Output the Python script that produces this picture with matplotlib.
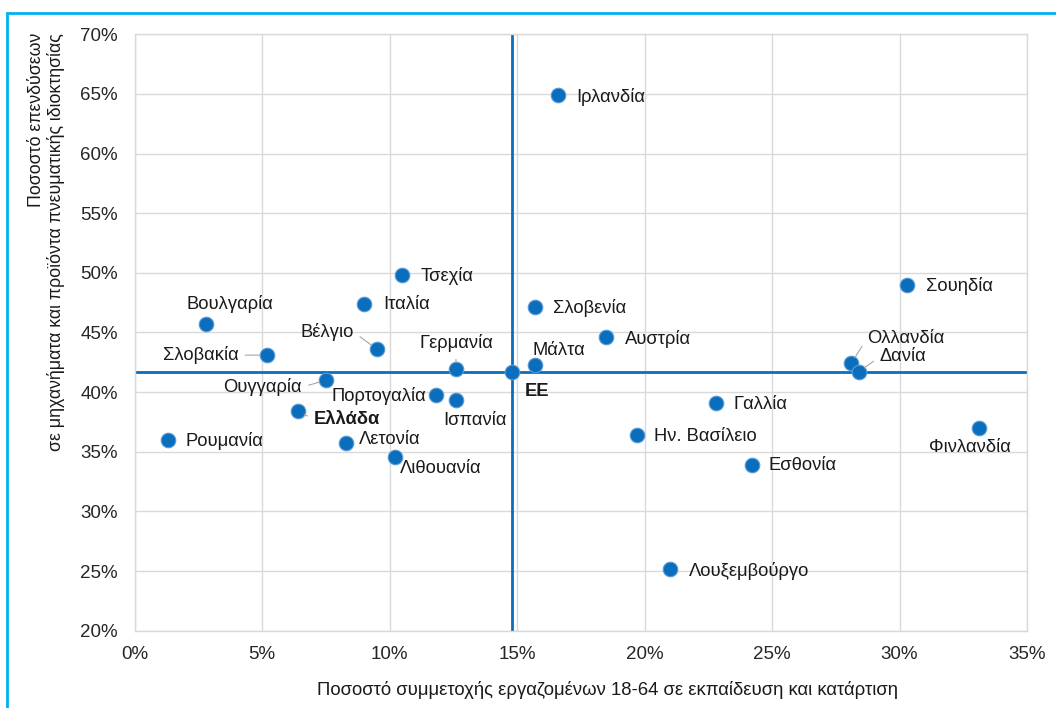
import matplotlib
matplotlib.use("Agg")
import matplotlib.pyplot as plt
import matplotlib.patches as patches
from matplotlib.ticker import FuncFormatter

plt.rcParams['font.family'] = ['Liberation Sans', 'DejaVu Sans']

# ---- data ----
countries = ["Ιρλανδία", "Τσεχία", "Ιταλία", "Βουλγαρία", "Σλοβακία", "Βέλγιο",
             "Γερμανία", "ΕΕ", "Μάλτα", "Σλοβενία", "Αυστρία", "Ουγγαρία",
             "Πορτογαλία", "Ισπανία", "Ελλάδα", "Ρουμανία", "Λετονία", "Λιθουανία",
             "Σουηδία", "Ολλανδία", "Δανία", "Γαλλία", "Ην. Βασίλειο", "Εσθονία",
             "Φινλανδία", "Λουξεμβούργο"]
training = [16.6, 10.5, 9.0, 2.8, 5.2, 9.5,
            12.6, 14.8, 15.7, 15.7, 18.5, 7.5,
            11.8, 12.6, 6.4, 1.3, 8.3, 10.2,
            30.3, 28.1, 28.4, 22.8, 19.7, 24.2,
            33.1, 21.0]
investment = [64.9, 49.8, 47.4, 45.7, 43.1, 43.6,
              41.9, 41.7, 42.3, 47.1, 44.6, 41.0,
              39.8, 39.3, 38.4, 36.0, 35.7, 34.6,
              49.0, 42.4, 41.7, 39.1, 36.4, 33.9,
              37.0, 25.2]
eu_x = 14.8
eu_y = 41.7

# label placement: (dx px, dy px, ha, leader line)
label_pos = {
    "Ιρλανδία": (18, -2, 'left', False),
    "Τσεχία": (18, -1, 'left', False),
    "Ιταλία": (19, -1, 'left', False),
    "Βουλγαρία": (24, 20, 'center', False),
    "Σλοβακία": (-29, 0, 'right', True),
    "Βέλγιο": (-23, 17, 'right', True),
    "Γερμανία": (0, 26, 'center', True),
    "ΕΕ": (13, -20, 'left', False),
    "Μάλτα": (-2, 14, 'left', False),
    "Σλοβενία": (18, -1, 'left', False),
    "Αυστρία": (19, -2, 'left', False),
    "Ουγγαρία": (-24, -7, 'right', True),
    "Πορτογαλία": (-9, -1, 'right', False),
    "Ισπανία": (19, -20, 'center', False),
    "Ελλάδα": (16, -8, 'left', True),
    "Ρουμανία": (18, -1, 'left', False),
    "Λετονία": (13, 4, 'left', False),
    "Λιθουανία": (5, -12, 'left', False),
    "Σουηδία": (19, -1, 'left', False),
    "Ολλανδία": (16, 25, 'left', True),
    "Δανία": (21, 15, 'left', True),
    "Γαλλία": (18, -2, 'left', False),
    "Ην. Βασίλειο": (17, -1, 'left', False),
    "Εσθονία": (17, -1, 'left', False),
    "Φινλανδία": (-9, -20, 'center', False),
    "Λουξεμβούργο": (19, -2, 'left', False),
}
bold_labels = ["ΕΕ", "Ελλάδα"]

fig = plt.figure(figsize=(10.56, 7.08), dpi=100)
ax = fig.add_axes([0.1276, 0.1092, 0.8449, 0.8424])

blue = '#0a6ebd'
ax.axvline(eu_x, color=blue, lw=2.0, zorder=2)
ax.axhline(eu_y, color=blue, lw=2.0, zorder=2)

ax.scatter(training, investment, s=110, color=blue, edgecolor='#5b9bd5',
           linewidth=0.8, zorder=3)

for name, x, y in zip(countries, training, investment):
    dx, dy, ha, leader = label_pos[name]
    weight = 'bold' if name in bold_labels else 'normal'
    arrow = None
    if leader:
        rx = {'left': 0.0, 'right': 1.0, 'center': 0.5}[ha]
        ry = 0.0 if (ha == 'center') else 0.5
        arrow = dict(arrowstyle='-', color='#a6a6a6', lw=0.8,
                     shrinkA=3, shrinkB=5, relpos=(rx, ry))
    ax.annotate(name, (x, y), xytext=(dx, dy), textcoords='offset pixels',
                ha=ha, va='center', fontsize=13.2, color='#1a1a1a',
                fontweight=weight, arrowprops=arrow, zorder=4)

ax.set_xlim(0, 35)
ax.set_ylim(20, 70)
ax.set_xticks(range(0, 36, 5))
ax.set_yticks(range(20, 71, 5))
ax.xaxis.set_major_formatter(FuncFormatter(lambda v, p: f"{v:.0f}%"))
ax.yaxis.set_major_formatter(FuncFormatter(lambda v, p: f"{v:.0f}%"))
ax.tick_params(length=0, labelsize=13.5, colors='#262626')
ax.tick_params(axis='y', pad=12)
ax.tick_params(axis='x', pad=11)
ax.grid(True, color='#d9d9d9', lw=1)
ax.set_axisbelow(True)
for sp in ax.spines.values():
    sp.set_color('#d9d9d9')
    sp.set_linewidth(1)

fig.text(0.575, 1 - 690 / 708, "Ποσοστό συμμετοχής εργαζομένων 18-64 σε εκπαίδευση και κατάρτιση",
         ha='center', va='center', fontsize=13.3, color='#1a1a1a')
fig.text(0.044, 1 - 33 / 708,
         "Ποσοστό επενδύσεων\nσε μηχανήματα και προϊόντα πνευματικής ιδιοκτησίας",
         rotation=90, ha='center', va='top', multialignment='right',
         fontsize=12.8, color='#1a1a1a', linespacing=1.2)

# outer frame (cropped at right/bottom)
frame = patches.Rectangle((7 / 1056, -0.1), 1.2, 1.1 - 13 / 708,
                          transform=fig.transFigure, fill=False,
                          edgecolor='#00b0f0', lw=2, clip_on=False)
fig.patches.append(frame)

fig.savefig("out.png", dpi=100)
